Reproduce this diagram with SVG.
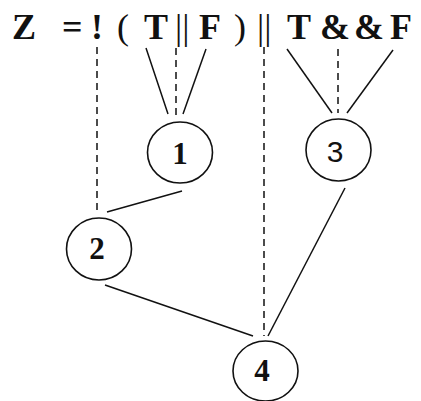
<svg xmlns="http://www.w3.org/2000/svg" width="421" height="401" viewBox="0 0 421 401">
<style>
.h{font-family:"Liberation Serif","Times New Roman",serif;font-weight:bold;font-size:36px;fill:#111}
.r{font-weight:normal}
.n{font-family:"Liberation Serif","Times New Roman",serif;font-weight:bold;font-size:31px;fill:#111;text-anchor:middle}
.s{font-family:"Liberation Sans",Arial,sans-serif;font-size:30px;fill:#111;text-anchor:middle}
ellipse{fill:none;stroke:#111;stroke-width:1.6}
line{stroke:#111;stroke-width:1.5}
.d{stroke-dasharray:7 5}
</style>
<rect width="421" height="401" fill="#fff"/>
<g id="expr">
<text class="h" x="12" y="39">Z</text>
<text class="h" x="62" y="39">=</text>
<text class="h" x="91" y="39">!</text>
<text class="h r" x="117" y="39">(</text>
<text class="h" x="144" y="39">T</text>
<text class="h r" x="175" y="39">||</text>
<text class="h" x="199" y="39">F</text>
<text class="h r" x="234" y="39">)</text>
<text class="h r" x="257" y="39">||</text>
<text class="h" x="287" y="39">T</text>
<text class="h" x="320" y="39">&amp;</text>
<text class="h" x="354" y="39">&amp;</text>
<text class="h" x="390" y="39">F</text>
</g>
<g id="connectors">
<line class="d" x1="97" y1="47" x2="97" y2="213"/>
<line x1="146" y1="48" x2="168" y2="114"/>
<line class="d" x1="176" y1="48" x2="176" y2="115"/>
<line x1="206" y1="49" x2="183" y2="114"/>
<line class="d" x1="264" y1="47" x2="264" y2="336"/>
<line x1="287" y1="49" x2="332" y2="113"/>
<line class="d" x1="338" y1="49" x2="338" y2="113"/>
<line x1="393" y1="50" x2="347" y2="113"/>
<line x1="182" y1="191" x2="107" y2="212"/>
<line x1="345" y1="188" x2="268" y2="336"/>
<line x1="105" y1="285" x2="253" y2="336"/>
</g>
<g id="node1">
<ellipse cx="180" cy="152.5" rx="32.5" ry="30.5"/>
<text class="n" x="180" y="164">1</text>
</g>
<g id="node3">
<ellipse cx="338.5" cy="150" rx="32.5" ry="31"/>
<text class="s" x="335" y="162">3</text>
</g>
<g id="node2">
<ellipse cx="99" cy="249" rx="32.5" ry="31"/>
<text class="n" x="97" y="259">2</text>
</g>
<g id="node4">
<ellipse cx="265.5" cy="371" rx="32.5" ry="30"/>
<text class="n" x="262" y="381">4</text>
</g>
</svg>
